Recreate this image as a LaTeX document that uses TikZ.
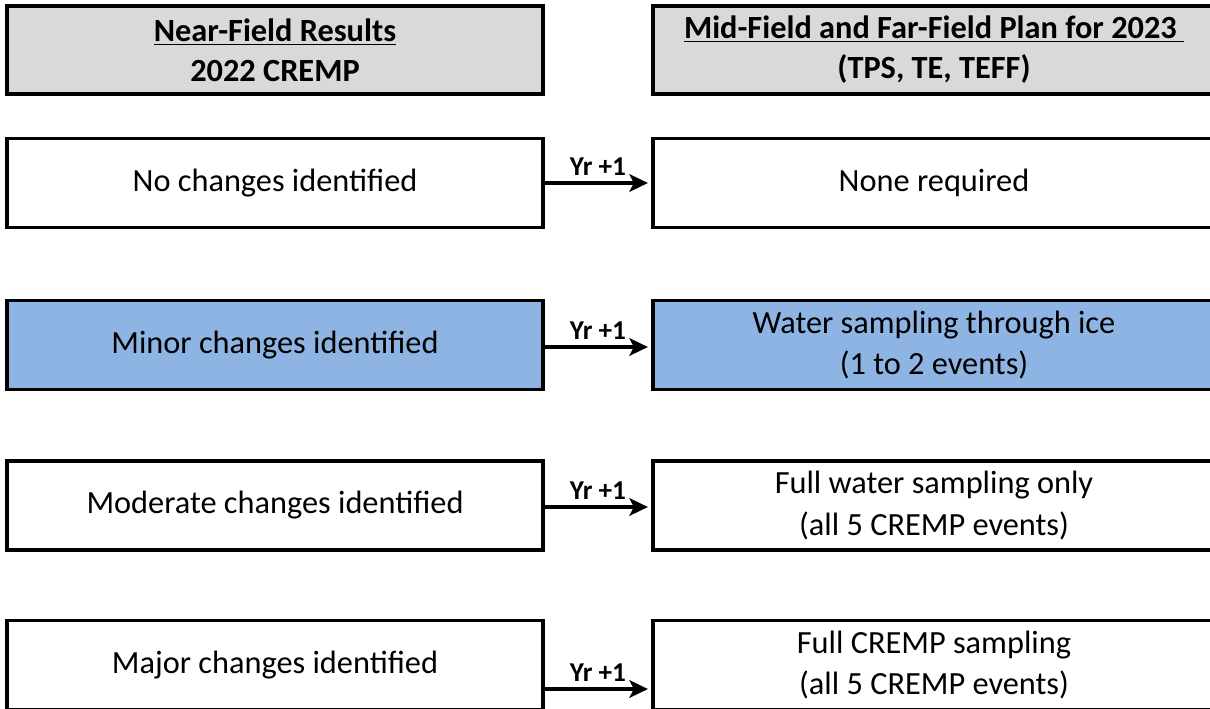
\documentclass[tikz,border=0pt]{standalone}
\usepackage{fontspec}
\setmainfont{Carlito}
\usepackage{tikz}
\usepackage{xcolor}
\usetikzlibrary{arrows.meta}
\definecolor{head-gray}{HTML}{D9D9D9}
\definecolor{minor-blue}{HTML}{8EB4E3}
\tikzset{
    result-box/.style = {draw=black, line width=1.8pt, rectangle, minimum width=10.72cm, minimum height=1.78cm, align=center, font=\fontsize{18.4}{23.5}\selectfont},
    plan-box/.style = {result-box, minimum width=11.24cm},
    head-box/.style = {fill=head-gray, minimum height=1.76cm, font=\fontsize{18.4}{22.8}\selectfont\bfseries},
    yr-arrow/.style = {line width=2pt, -{Stealth[length=10.5pt, width=10pt, inset=2.5pt]}, shorten >=2pt},
    yr-label/.style = {midway, above, inner sep=3pt, font=\fontsize{15.5}{18}\selectfont\bfseries},
}
\begin{document}
\begin{tikzpicture}
\useasboundingbox (0,0) rectangle (24.2,-14.18);
% headers
\node[result-box, head-box] (near-head) at (5.5,-1.0) {\underline{Near-Field Results}\\2022 CREMP};
\node[plan-box, head-box] (mid-head) at (18.68,-1.0) {\underline{Mid-Field and Far-Field Plan for 2023\ }\\(TPS, TE, TEFF)};
% rows
\node[result-box] (no-change) at (5.5,-3.66) {No changes identified};
\node[plan-box] (none-req) at (18.68,-3.66) {None required};
\node[result-box, fill=minor-blue] (minor-change) at (5.5,-6.9) {Minor changes identified};
\node[plan-box, fill=minor-blue] (ice-sampling) at (18.68,-6.9) {Water sampling through ice\\(1 to 2 events)};
\node[result-box] (moderate-change) at (5.5,-10.11) {Moderate changes identified};
\node[plan-box] (full-water) at (18.68,-10.11) {Full water sampling only\\(all 5 CREMP events)};
\node[result-box] (major-change) at (5.5,-13.3) {Major changes identified};
\node[plan-box] (full-cremp) at (18.68,-13.3) {Full CREMP sampling\\(all 5 CREMP events)};
% arrows
\draw[yr-arrow] (no-change.east) -- node[yr-label] {Yr +1} (none-req.west);
\draw[yr-arrow] ([yshift=-0.04cm]minor-change.east) -- node[yr-label] {Yr +1} ([yshift=-0.04cm]ice-sampling.west);
\draw[yr-arrow] ([yshift=-0.03cm]moderate-change.east) -- node[yr-label] {Yr +1} ([yshift=-0.03cm]full-water.west);
\draw[yr-arrow] ([yshift=-0.48cm]major-change.east) -- node[yr-label] {Yr +1} ([yshift=-0.48cm]full-cremp.west);
\end{tikzpicture}
\end{document}
